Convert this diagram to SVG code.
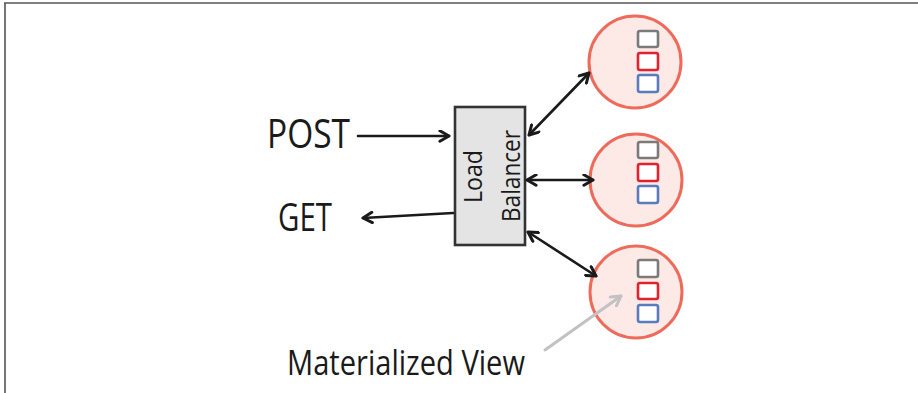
<svg xmlns="http://www.w3.org/2000/svg" width="918" height="393" viewBox="0 0 918 393">
<style>
.lbl{font-family:"Open Sans","Liberation Sans",sans-serif;fill:#1a1a1a;}
.conn{fill:none;stroke:#1a1a1a;stroke-width:2.6;stroke-linecap:round;}
.gray{fill:none;stroke:#c2c2c2;stroke-width:3;stroke-linecap:round;}
.srv{fill:#fde9e6;stroke:#ee6b5b;stroke-width:3;}
.sq{fill:#fff;stroke-width:2.6;}
</style>
<defs>
<marker id="ah" viewBox="0 0 10 10" refX="8.5" refY="5" markerWidth="5" markerHeight="5" orient="auto-start-reverse" markerUnits="strokeWidth">
<path d="M1.5,1 L8.5,5 L1.5,9" fill="none" stroke="#1a1a1a" stroke-width="2.3" stroke-linecap="round" stroke-linejoin="round"/>
</marker>
<marker id="ahg" viewBox="0 0 10 10" refX="8.5" refY="5" markerWidth="4.5" markerHeight="4.5" orient="auto" markerUnits="strokeWidth">
<path d="M1.5,1 L8.5,5 L1.5,9" fill="none" stroke="#c2c2c2" stroke-width="2.2" stroke-linecap="round" stroke-linejoin="round"/>
</marker>
</defs>
<rect width="918" height="393" fill="#fff"/>
<path d="M4,3 H918 M5,3 V393" fill="none" stroke="#555" stroke-width="1.6"/>

<g id="post"><text class="lbl" x="267" y="148" font-size="40" textLength="83" lengthAdjust="spacingAndGlyphs">POST</text></g>
<g id="get"><text class="lbl" x="278" y="231" font-size="38" textLength="54" lengthAdjust="spacingAndGlyphs">GET</text></g>

<g id="load-balancer">
<rect x="455" y="107" width="70" height="138" fill="#e4e4e4" stroke="#333" stroke-width="2.6"/>
<text class="lbl" transform="translate(482,176.5) rotate(-90)" text-anchor="middle" font-size="26" textLength="53" lengthAdjust="spacingAndGlyphs">Load</text>
<text class="lbl" transform="translate(520,176) rotate(-90)" text-anchor="middle" font-size="25" textLength="92" lengthAdjust="spacingAndGlyphs">Balancer</text>
</g>

<g id="server1">
<circle class="srv" cx="635" cy="62" r="46"/>
<rect class="sq" x="638" y="31" width="20" height="16" rx="2" stroke="#7b7b7b"/>
<rect class="sq" x="638" y="53" width="20" height="17" rx="2" stroke="#e0242f"/>
<rect class="sq" x="638" y="75" width="20" height="17" rx="2" stroke="#5a7bbf"/>
</g>
<g id="server2">
<circle class="srv" cx="636" cy="180" r="46"/>
<rect class="sq" x="638" y="142" width="20" height="16" rx="2" stroke="#7b7b7b"/>
<rect class="sq" x="638" y="164" width="20" height="17" rx="2" stroke="#e0242f"/>
<rect class="sq" x="638" y="186" width="20" height="17" rx="2" stroke="#5a7bbf"/>
</g>
<g id="server3">
<circle class="srv" cx="636" cy="292" r="46"/>
<rect class="sq" x="638" y="260" width="20" height="17" rx="2" stroke="#7b7b7b"/>
<rect class="sq" x="638" y="283" width="20" height="16" rx="2" stroke="#e0242f"/>
<rect class="sq" x="638" y="305" width="20" height="17" rx="2" stroke="#5a7bbf"/>
</g>

<g id="materialized-view"><text class="lbl" x="287" y="375" font-size="34" textLength="238" lengthAdjust="spacingAndGlyphs">Materialized View</text></g>

<g id="connectors">
<path class="conn" d="M358,136 L449,136" marker-end="url(#ah)"/>
<path class="conn" d="M453,213 L363,218" marker-end="url(#ah)"/>
<path class="conn" d="M529,135 L589,73" marker-start="url(#ah)" marker-end="url(#ah)"/>
<path class="conn" d="M527,180 L593,180" marker-start="url(#ah)" marker-end="url(#ah)"/>
<path class="conn" d="M528,232 L596,276" marker-start="url(#ah)" marker-end="url(#ah)"/>
<path class="gray" d="M545,350 L621,296" marker-end="url(#ahg)"/>
</g>
</svg>
